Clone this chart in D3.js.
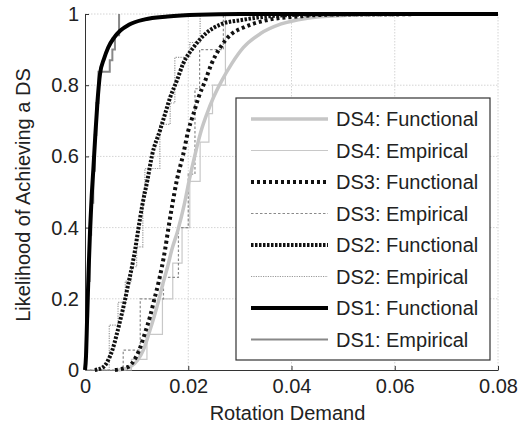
<!DOCTYPE html>
<html>
<head>
<meta charset="utf-8">
<script src="https://cdn.jsdelivr.net/npm/d3@7"></script>
<style>
	body{margin:0;background:#fff;}
	svg{display:block;font-family:'Liberation Sans',Arial,sans-serif;}
	.axis text{font-size:20px;fill:#222;}
	.axis path,.axis line{stroke:#333;}
</style>
</head>
<body>
<svg id="chart"></svg>
<script>
/*functional curves, points*/
const ds1_fx = [0,0.0002,0.0004,0.0007,0.001,0.0013,0.0016,0.002,0.0024,0.0029,0.0037,0.0045,0.0056,0.0068,0.0085,0.0116,0.016,0.022,0.03,0.08]
const ds1_fy = [0,0.04,0.14,0.28,0.40,0.49,0.56,0.66,0.75,0.831,0.875,0.906,0.933,0.953,0.97,0.985,0.993,0.998,1,1]

const ds2_fx = [0.0019,0.0036,0.0045,0.0053,0.0062,0.0070,0.00775,0.0084,0.0091,0.0097,0.0103,0.0111,0.0121,0.0130,0.0145,0.0155,0.0165,0.0178,0.0190,0.0210,0.0233,0.0265,0.0303,0.036,0.045,0.08]
const ds2_fy = [0,0.009,0.028,0.056,0.103,0.150,0.197,0.243,0.290,0.337,0.393,0.463,0.534,0.604,0.672,0.719,0.766,0.813,0.860,0.906,0.944,0.972,0.983,0.994,0.999,1]

const ds3_fx = [0.0058,0.0084,0.00955,0.0105,0.0116,0.0126,0.0134,0.0142,0.0149,0.0155,0.0161,0.0169,0.0178,0.0190,0.0200,0.0210,0.0220,0.0233,0.0245,0.0262,0.0284,0.0307,0.035,0.042,0.05,0.08]
const ds3_fy = [0,0.009,0.028,0.056,0.103,0.150,0.197,0.243,0.290,0.337,0.393,0.463,0.534,0.604,0.672,0.719,0.766,0.813,0.860,0.906,0.944,0.962,0.982,0.994,0.999,1]

const ds4_fx = [0.0065,0.0088,0.0102,0.0113,0.0124,0.0134,0.0143,0.0151,0.0160,0.0168,0.0180,0.0192,0.0202,0.0213,0.0225,0.0236,0.0249,0.0265,0.0284,0.0307,0.034,0.038,0.043,0.05,0.058,0.08]
const ds4_fy = [0,0.009,0.028,0.056,0.103,0.150,0.197,0.243,0.290,0.337,0.393,0.463,0.534,0.604,0.672,0.719,0.766,0.813,0.860,0.906,0.945,0.972,0.988,0.996,0.999,1]

/*empirical staircases: x where the step happens, y after it*/
const ds1_ex = [0,0.0002,0.0004,0.0006,0.0009,0.0012,0.0016,0.0019,0.0022,0.0026,0.0048,0.0053,0.0058,0.0066]
const ds1_ey = [0,0.05,0.15,0.25,0.38,0.47,0.56,0.66,0.75,0.838,0.87,0.90,0.94,1]

const ds2_ex = [0,0.0047,0.0064,0.0078,0.0090,0.0100,0.0112,0.0116,0.0145,0.0165,0.0174,0.0203,0.0223]
const ds2_ey = [0,0.126,0.19,0.25,0.29,0.346,0.50,0.566,0.69,0.75,0.878,0.92,1]

const ds3_ex = [0,0.0074,0.0107,0.0152,0.0181,0.0200,0.0213,0.0222,0.0268]
const ds3_ey = [0,0.056,0.20,0.26,0.40,0.55,0.79,0.90,1]

const ds4_ex = [0,0.0090,0.0120,0.0150,0.0170,0.0188,0.0203,0.0223,0.0240,0.0247,0.0272]
const ds4_ey = [0,0.03,0.10,0.20,0.30,0.40,0.53,0.64,0.72,0.80,1]

const x_ticks = [0,0.02,0.04,0.06,0.08]
const y_ticks = [0,0.2,0.4,0.6,0.8,1]

const legend_labels = ['DS4: Functional','DS4: Empirical','DS3: Functional','DS3: Empirical','DS2: Functional','DS2: Empirical','DS1: Functional','DS1: Empirical']

const zip = (xs,ys)=>xs.map((v,i)=>[v,ys[i]])

/*one style per legend entry, same order*/
const styles = [
	{color:'#c6c6c6',width:3.5,dash:null},
	{color:'#c8c8c8',width:1.2,dash:null},
	{color:'#111',width:4,dash:'3,3'},
	{color:'#8a8a8a',width:1.2,dash:'2.5,2'},
	{color:'#111',width:4,dash:'2.5,1.5'},
	{color:'#999',width:1.2,dash:'1.2,1.2'},
	{color:'#000',width:4,dash:null},
	{color:'#888',width:2,dash:null}
]

const series = [
	{pts:zip(ds4_fx,ds4_fy),step:false},
	{pts:zip(ds4_ex,ds4_ey),step:true},
	{pts:zip(ds3_fx,ds3_fy),step:false},
	{pts:zip(ds3_ex,ds3_ey),step:true},
	{pts:zip(ds2_fx,ds2_fy),step:false},
	{pts:zip(ds2_ex,ds2_ey),step:true},
	{pts:zip(ds1_fx,ds1_fy),step:false},
	{pts:zip(ds1_ex,ds1_ey),step:true}
]

let margin = {top:14,right:24,bottom:63,left:85}
let width = 522 - margin.left - margin.right
let height = 433 - margin.top - margin.bottom

const xScale = d3.scaleLinear().domain([0,0.08]).range([0,width])
const yScale = d3.scaleLinear().domain([0,1]).range([height,0])

const svg = d3.select('#chart')
	.attr('width',522)
	.attr('height',433)

const chart = svg.append('g')
	.attr('transform',`translate(${margin.left},${margin.top})`)

/*grid*/
const grid = chart.append('g')
grid.selectAll('.gx')
	.data(x_ticks.slice(1))
	.enter()
	.append('line')
	.attr('x1',d=>xScale(d)).attr('x2',d=>xScale(d))
	.attr('y1',0).attr('y2',height)
grid.selectAll('.gy')
	.data(y_ticks.slice(1))
	.enter()
	.append('line')
	.attr('x1',0).attr('x2',width)
	.attr('y1',d=>yScale(d)).attr('y2',d=>yScale(d))
grid.selectAll('line')
	.attr('stroke','#d4d4d4')
	.attr('stroke-width',1)
	.attr('stroke-dasharray','1.5,1.5')

const axisX = chart.append('g')
	.classed('axis',true)
	.attr('transform',`translate(0,${height})`)
	.call(d3.axisBottom(xScale).tickValues(x_ticks).tickFormat(d3.format('~g')).tickSizeInner(-4).tickSizeOuter(0).tickPadding(9))

const axisY = chart.append('g')
	.classed('axis',true)
	.call(d3.axisLeft(yScale).tickValues(y_ticks).tickFormat(d3.format('~g')).tickSizeInner(-4).tickSizeOuter(0).tickPadding(6))

/*curves: functional first, empirical staircases on top*/
const smooth = d3.line().x(d=>xScale(d[0])).y(d=>yScale(d[1])).curve(d3.curveMonotoneX)
const stairs = d3.line().x(d=>xScale(d[0])).y(d=>yScale(d[1])).curve(d3.curveStepAfter)

const order = [1,3,5,7,0,2,4,6]
chart.selectAll('.curve')
	.data(order)
	.enter()
	.append('path')
	.classed('curve',true)
	.attr('d',i=>series[i].step ? stairs(series[i].pts) : smooth(series[i].pts))
	.attr('fill','none')
	.attr('stroke',i=>styles[i].color)
	.attr('stroke-width',i=>styles[i].width)
	.attr('stroke-dasharray',i=>styles[i].dash)

/*legend*/
const legend = chart.append('g')
	.attr('transform',`translate(${236-margin.left},${98-margin.top})`)

legend.append('rect')
	.attr('width',254)
	.attr('height',262)
	.attr('fill','#fff')
	.attr('stroke','#333')
	.attr('stroke-width',1.2)

const rows = legend.selectAll('.row')
	.data(legend_labels)
	.enter()
	.append('g')
	.attr('transform',(d,i)=>`translate(0,${21 + i*31.5})`)

rows.append('line')
	.attr('x1',15).attr('x2',92)
	.attr('stroke',(d,i)=>styles[i].color)
	.attr('stroke-width',(d,i)=>styles[i].width)
	.attr('stroke-dasharray',(d,i)=>styles[i].dash)

rows.append('text')
	.attr('x',100)
	.attr('dy','0.35em')
	.attr('font-size','20px')
	.attr('fill','#222')
	.text(d=>d)

/*axis titles*/
chart.append('text')
	.attr('x',width/2 - 4)
	.attr('y',height+50)
	.attr('text-anchor','middle')
	.attr('font-size','20px')
	.attr('fill','#222')
	.text('Rotation Demand')

chart.append('text')
	.attr('transform',`translate(${23-margin.left},${height/2 + 3}) rotate(-90)`)
	.attr('dy','0.35em')
	.attr('text-anchor','middle')
	.attr('font-size','20px')
	.attr('fill','#222')
	.text('Likelihood of Achieving a DS')
</script>
</body>
</html>
